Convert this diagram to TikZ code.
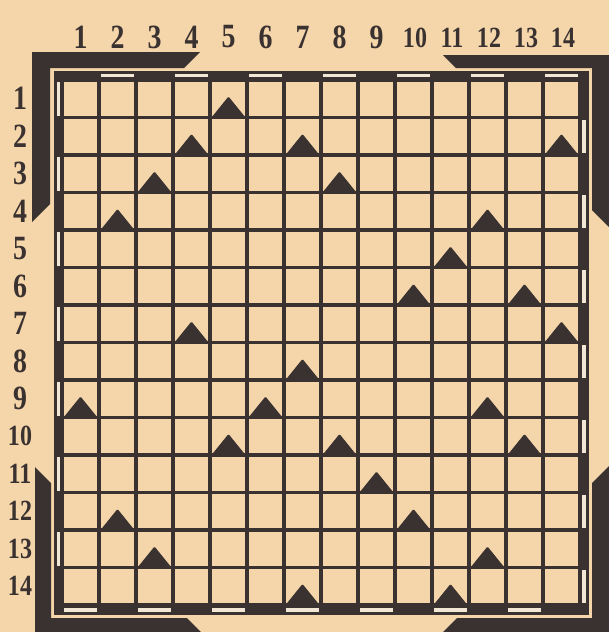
\documentclass[tikz,border=0pt]{standalone}
\usepackage{fontspec}
\usepackage{tikz}
\newfontfamily\numfont[FakeStretch=0.82]{Liberation Serif}
\definecolor{PaperTan}{RGB}{245,213,170}
\definecolor{PaperLight}{RGB}{242,230,212}
\definecolor{InkDark}{RGB}{58,50,48}

\begin{document}
\begin{tikzpicture}[x=0.03cm, y=-0.03cm,
  ink/.style={fill=InkDark},
  gridline/.style={draw=InkDark, line width=2.8pt},
  lightbar/.style={fill=PaperLight},
  marker/.style={fill=InkDark, rounded corners=1pt},
  numlabel/.style={font=\numfont\bfseries\fontsize{29}{30}\selectfont,
                   text=InkDark, inner sep=0pt},
  widelabel/.style={numlabel, font=\numfont\bfseries\fontsize{25}{26}\selectfont}
]
  \useasboundingbox (0,0) rectangle (609,632);
  \fill[PaperTan] (0,0) rectangle (609,632);
  \clip (0,0) rectangle (609,632);

  \fill[ink] (32,52) -- (200,52) -- (184,68) -- (50,68) -- (50,204) -- (32,222) -- cycle;
  \fill[ink] (443,55) -- (615,55) -- (615,233) -- (592,210) -- (592,68) -- (456,68) -- cycle;
  \fill[ink] (35,467) -- (51,483) -- (51,618) -- (187,618) -- (205,636) -- (35,636) -- cycle;
  \fill[ink] (615,460) -- (592,483) -- (592,618) -- (457,618) -- (439,636) -- (615,636) -- cycle;

  \fill[ink] (53.5,71) rectangle (589,615);
  \fill[PaperTan] (62,80) rectangle (580,605);

  \foreach \i in {0,...,14} {
    \draw[gridline] ({62+37*\i},80) -- ({62+37*\i},605);
    \draw[gridline] (62,{80+37.5*\i}) -- (580,{80+37.5*\i});
  }

  \foreach \i in {2,4,...,14} {
    \fill[lightbar] ({62+37*(\i-1)+2},73.5) rectangle ({62+37*\i-2},77.3);
    \fill[lightbar] (582,{80+37.5*(\i-1)+2}) rectangle (585.5,{80+37.5*\i-2});
  }
  \foreach \i in {1,3,...,13} {
    \fill[lightbar] ({62+37*(\i-1)+2},607.8) rectangle ({62+37*\i-2},611.8);
    \fill[lightbar] (56.7,{80+37.5*(\i-1)+2}) rectangle (60,{80+37.5*\i-2});
  }

  \foreach \c/\r in {5/1, 4/2, 7/2, 14/2, 3/3, 8/3, 2/4, 12/4, 11/5, 10/6, 13/6,
                     4/7, 14/7, 7/8, 1/9, 6/9, 12/9, 5/10, 8/10, 13/10, 9/11,
                     2/12, 10/12, 3/13, 12/13, 7/14, 11/14} {
    \fill[marker] ({62+37*(\c-1)+1.5},{80+37.5*\r})
      -- ({62+37*\c-18.5},{80+37.5*\r-21})
      -- ({62+37*\c-1.5},{80+37.5*\r}) -- cycle;
  }

  \foreach \i in {1,...,9} {
    \node[numlabel] (col\i) at ({62+37*\i-18.5},37) {\i};
    \node[numlabel] (row\i) at (20,{80+37.5*\i-18.75}) {\i};
  }
  \foreach \i in {10,...,14} {
    \node[widelabel] (col\i) at ({62+37*\i-17},38) {\i};
    \node[widelabel] (row\i) at (20,{80+37.5*\i-18.75}) {\i};
  }
\end{tikzpicture}
\end{document}
